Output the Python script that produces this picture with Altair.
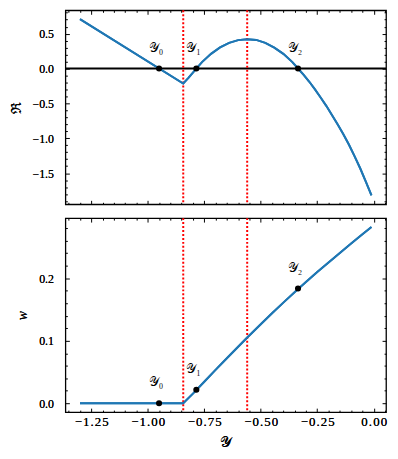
import altair as alt
import pandas as pd

# ---- data ----
top_x = [-1.30, -0.843, -0.82, -0.785, -0.76, -0.72, -0.68, -0.64, -0.60, -0.56,
         -0.52, -0.48, -0.44, -0.40, -0.36, -0.335, -0.31, -0.285, -0.26, -0.235,
         -0.21, -0.185, -0.16, -0.135, -0.11, -0.085, -0.06, -0.035, -0.01]
top_re = [0.708, -0.215, -0.134, 0.0, 0.092, 0.21, 0.302, 0.368, 0.407, 0.42,
          0.41, 0.368, 0.30, 0.21, 0.092, 0.0, -0.09, -0.19, -0.30, -0.415,
          -0.535, -0.665, -0.80, -0.94, -1.09, -1.255, -1.43, -1.62, -1.82]

bot_x = [-1.30, -0.843, -0.80, -0.75, -0.70, -0.65, -0.60, -0.563, -0.50, -0.45,
         -0.40, -0.336, -0.30, -0.25, -0.20, -0.15, -0.10, -0.05, -0.01]
bot_w = [0.0, 0.0, 0.0155, 0.0345, 0.0535, 0.072, 0.0905, 0.104, 0.1265, 0.144,
         0.161, 0.1825, 0.194, 0.2098, 0.2253, 0.2405, 0.2555, 0.2703, 0.282]

pt_x = [-0.95, -0.785, -0.335]
pt_top = [0.0, 0.0, 0.0]
pt_bot = [0.0, 0.0217, 0.1835]
pt_lab = ["𝒴₀", "𝒴₁", "𝒴₂"]

vlines = [-0.843, -0.56]

x_major = [-1.25, -1.0, -0.75, -0.5, -0.25, 0.0]
x_minor = [round(-1.35 + 0.05 * i, 2) for i in range(29)]
x_minor = [v for v in x_minor if v not in x_major]
top_major = [-1.5, -1.0, -0.5, 0.0, 0.5]
top_minor = [round(-1.9 + 0.1 * i, 2) for i in range(28)]
top_minor = [v for v in top_minor if v not in top_major]
bot_major = [0.0, 0.1, 0.2]
bot_minor = [round(0.02 * i, 2) for i in range(15)]
bot_minor = [v for v in bot_minor if v not in bot_major]


def pad_dom(vals):
    lo, hi = min(vals), max(vals)
    m = 0.05 * (hi - lo)
    return [lo - m, hi + m]


x_dom = pad_dom(top_x)
BLUE = "#1f77b4"
W, H = 324, 196
SERIF = "Liberation Serif"
SPACED = "replace(datum.label, regexp('(.)(?=.)', 'g'), '$1\u200a')"


def panel(xs_data, ys_data, ymaj, ymin, ytitle, ytitle_style, show_x, pys):
    df = pd.DataFrame({"x": xs_data, "y": ys_data})
    pdf = pd.DataFrame({"x": pt_x, "y": pys, "lab": pt_lab})
    vdf = pd.DataFrame({"x": vlines})
    xs = alt.Scale(domain=x_dom, nice=False, zero=False)
    ys = alt.Scale(domain=pad_dom(ys_data), nice=False, zero=False)
    base = alt.Chart(df)

    xargs = dict(orient="bottom", values=x_major, labels=show_x, ticks=False,
                 domain=False, grid=False, format=".2f", labelPadding=4,
                 labelFontSize=13, labelExpr=SPACED, titlePadding=6,
                 titleFontSize=15)
    if show_x:
        xargs["title"] = "𝒴"
    else:
        xargs["title"] = None
        xargs["maxExtent"] = 0
    main = base.mark_line(color=BLUE, strokeWidth=2).encode(
        x=alt.X("x:Q", scale=xs, axis=alt.Axis(**xargs)),
        y=alt.Y("y:Q", scale=ys, axis=alt.Axis(
            orient="left", values=ymaj, ticks=False, domain=False, grid=False,
            format=".1f", labelPadding=12, title=ytitle, titlePadding=9,
            titleFontSize=14, titleFontStyle=ytitle_style, labelFontSize=12)),
    )

    def ticks(xo, yo, xv, yv, size):
        return base.mark_point(opacity=0).encode(
            x=alt.X("x:Q", scale=xs, axis=alt.Axis(
                orient=xo, values=xv, labels=False, ticks=True, tickSize=size,
                offset=-size, domain=False, grid=False, title=None,
                minExtent=0, maxExtent=0)),
            y=alt.Y("y:Q", scale=ys, axis=alt.Axis(
                orient=yo, values=yv, labels=False, ticks=True, tickSize=size,
                offset=-size, domain=False, grid=False, title=None,
                minExtent=0, maxExtent=0)),
        )

    layers = [
        ticks("bottom", "left", x_major, ymaj, 4),
        ticks("bottom", "left", x_minor, ymin, 2),
        ticks("top", "right", x_major, ymaj, 4),
        ticks("top", "right", x_minor, ymin, 2),
    ]
    rules = alt.Chart(vdf).mark_rule(color="red", strokeWidth=2, strokeDash=[2, 2]).encode(
        x=alt.X("x:Q", scale=xs, axis=None))
    extra = []
    if not show_x:
        zero = alt.Chart(pd.DataFrame({"y": [0.0]})).mark_rule(color="black", strokeWidth=2).encode(
            y=alt.Y("y:Q", scale=ys, axis=None))
        extra.append(zero)
    pts = alt.Chart(pdf).mark_circle(color="black", size=38, opacity=1).encode(
        x=alt.X("x:Q", scale=xs, axis=None), y=alt.Y("y:Q", scale=ys, axis=None))
    txt = alt.Chart(pdf).mark_text(font=SERIF, fontSize=13, dx=-3, dy=-21,
                                   color="black").encode(
        x=alt.X("x:Q", scale=xs, axis=None), y=alt.Y("y:Q", scale=ys, axis=None),
        text="lab:N")
    ch = alt.layer(main, *layers, *extra, rules, main, pts, txt).resolve_axis(
        x="independent", y="independent").properties(width=W, height=H)
    return ch


top = panel(top_x, top_re, top_major, top_minor, "ℜ", "normal", False, pt_top)
bot = panel(bot_x, bot_w, bot_major, bot_minor, "w", "italic", True, pt_bot)

chart = alt.vconcat(top, bot, spacing=10).properties(
    padding={"left": 0, "top": -2, "right": 2, "bottom": 2}
).configure_view(stroke="black", strokeWidth=1.3).configure_axis(
    labelFont=SERIF, labelColor="black", tickColor="black",
    tickWidth=1, titleFont=SERIF, titleFontSize=15, titleColor="black",
    titleFontWeight="normal")

chart.save("out.html", embed_options={"renderer": "svg", "actions": False})
